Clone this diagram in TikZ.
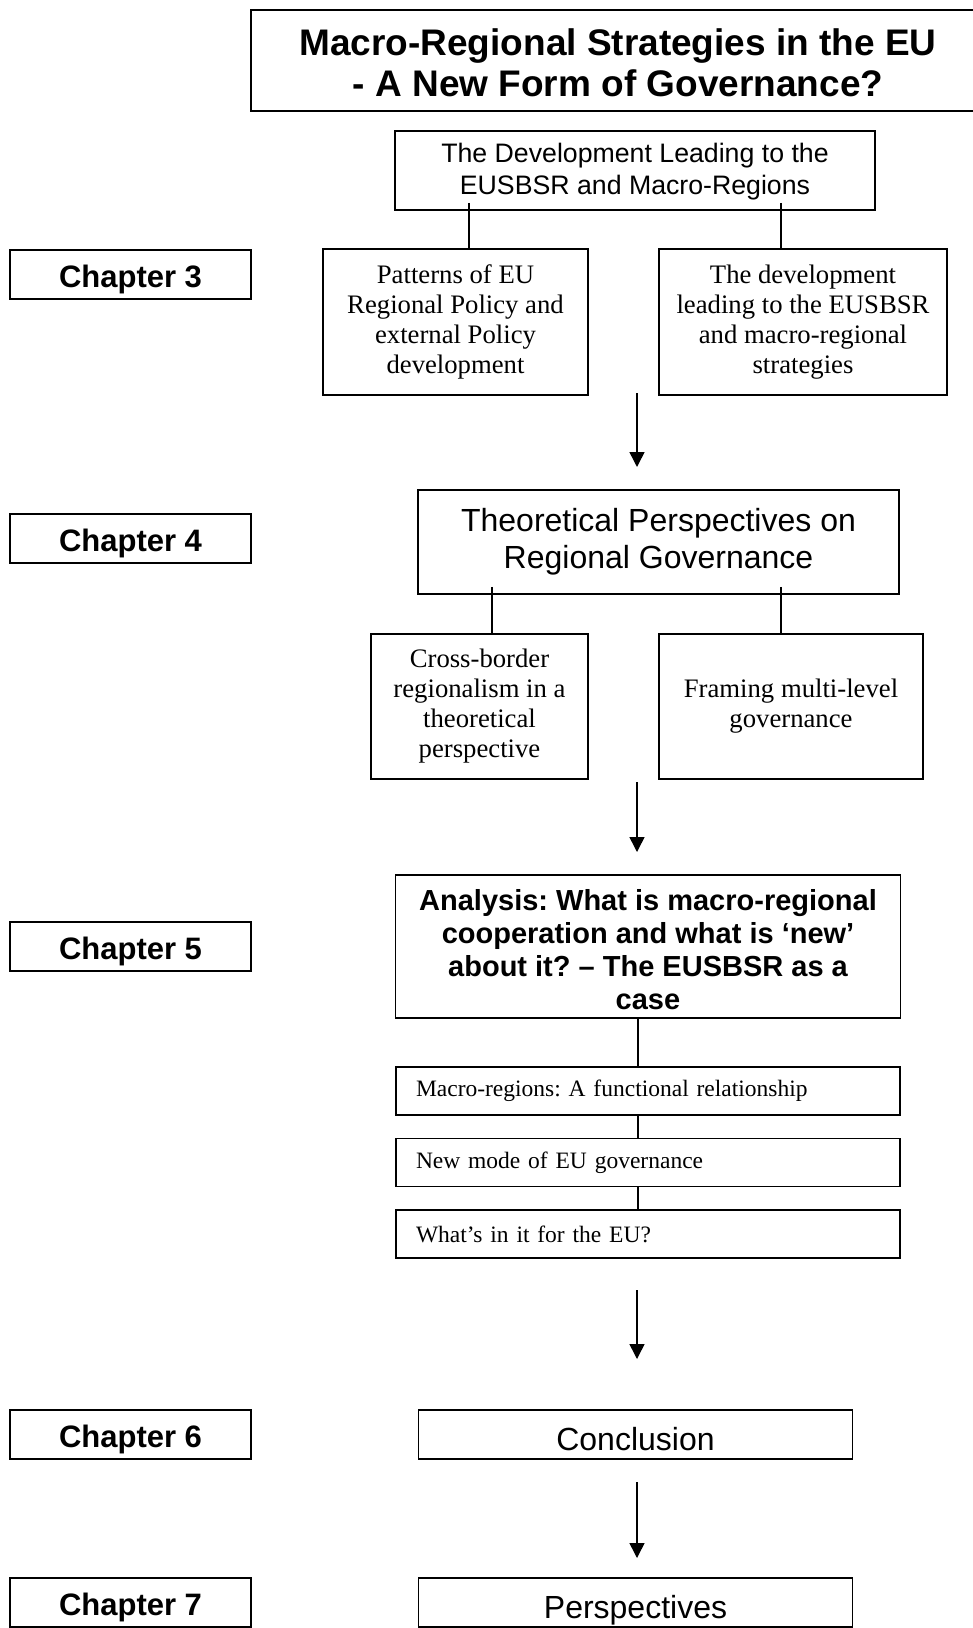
\documentclass[tikz,border=0pt]{standalone}
\usepackage{fontspec}
\setmainfont{Liberation Serif}
\setsansfont{Liberation Sans}
\usetikzlibrary{arrows.meta}
\begin{document}
\frenchspacing
\begin{tikzpicture}[x=1pt,y=-1pt,
  bx/.style={draw,line width=1.5pt,inner sep=0pt,align=center},
  chap/.style={bx,minimum width=241pt,minimum height=49pt,text height=26pt,text depth=0pt,font=\sffamily\bfseries\fontsize{31}{34}\selectfont},
  sansmid/.style={font=\sffamily\fontsize{26.7}{32}\selectfont},
  sansbig/.style={font=\sffamily\fontsize{32}{37.4}\selectfont},
  onebox/.style={bx,sansbig,minimum width=434pt,minimum height=49pt,text height=31pt,text depth=0pt},
  serifmid/.style={font=\rmfamily\fontsize{26.7}{30}\selectfont},
  listbox/.style={draw,line width=1.5pt,inner xsep=20pt,inner ysep=0pt,text width=464pt,align=left,minimum height=48pt,font=\rmfamily\fontsize{23.5}{27}\selectfont},
  arr/.style={line width=1.5pt,-{Triangle[length=15pt,width=15pt]}},
  ln/.style={line width=1.5pt}]
\path[use as bounding box] (0,0) rectangle (973,1628);
\clip (0,0) rectangle (973,1628);

% title
\node[bx,minimum width=734pt,minimum height=101pt,font=\sffamily\bfseries\fontsize{37}{41.5}\selectfont] (title) at (618,60.5) {\rule{0pt}{31pt}Macro-Regional Strategies in the EU\\- A New Form of Governance?};

% chapter 3
\node[bx,sansmid,minimum width=480pt,minimum height=79pt] (dev) at (635,170.5) {\rule{0pt}{22pt}The Development Leading to the\\EUSBSR and Macro-Regions};
\node[chap] (ch3) at (130.5,274.5) {Chapter 3};
\node[bx,serifmid,minimum width=265pt,minimum height=146pt] (pat) at (455.5,322) {Patterns of EU\\Regional Policy and\\external Policy\\development};
\node[bx,serifmid,minimum width=288pt,minimum height=146pt] (devl) at (803,322) {The development\\leading to the EUSBSR\\and macro-regional\\strategies};
\coordinate (xa) at (469,0);
\coordinate (xb) at (781,0);
\draw[ln,shorten <=-8pt] (dev.south -| xa) -- (pat.north -| xa);
\draw[ln,shorten <=-8pt] (dev.south -| xb) -- (devl.north -| xb);
\coordinate (a1s) at (637,393);
\coordinate (a1e) at (637,467);
\draw[arr] (a1s) -- (a1e);

% chapter 4
\node[chap] (ch4) at (130.5,538.5) {Chapter 4};
\node[bx,sansbig,minimum width=481pt,minimum height=104pt] (theo) at (658.5,542) {Theoretical Perspectives on\\Regional Governance};
\node[bx,serifmid,minimum width=217pt,minimum height=145pt] (cross) at (479.5,706.5) {Cross-border\\regionalism in a\\theoretical\\perspective};
\node[bx,serifmid,minimum width=264pt,minimum height=145pt] (fram) at (791,706.5) {Framing multi-level\\governance};
\coordinate (xc) at (492,0);
\coordinate (xd) at (781,0);
\draw[ln,shorten <=-8pt] (theo.south -| xc) -- (cross.north -| xc);
\draw[ln,shorten <=-8pt] (theo.south -| xd) -- (fram.north -| xd);
\coordinate (a2s) at (637,782);
\coordinate (a2e) at (637,852);
\draw[arr] (a2s) -- (a2e);

% chapter 5
\node[chap] (ch5) at (130.5,946.5) {Chapter 5};
\node[bx,minimum width=505pt,minimum height=143pt,font=\sffamily\bfseries\fontsize{29}{33.2}\selectfont] (ana) at (648,946.5) {\rule{0pt}{27pt}Analysis: What is macro-regional\\cooperation and what is ‘new’\\about it? – The EUSBSR as a\\case};
\node[listbox] (mac) at (648,1091) {Macro-regions: A functional relationship};
\node[listbox] (new) at (648,1162.5) {New mode of EU governance};
\node[listbox] (what) at (648,1234) {What’s in it for the EU?};
\coordinate (xe) at (638,0);
\draw[ln] (ana.south -| xe) -- (mac.north -| xe);
\draw[ln] (mac.south -| xe) -- (new.north -| xe);
\draw[ln] (new.south -| xe) -- (what.north -| xe);
\coordinate (a3s) at (637,1290);
\coordinate (a3e) at (637,1359);
\draw[arr] (a3s) -- (a3e);

% chapter 6
\node[chap] (ch6) at (130.5,1434.5) {Chapter 6};
\node[onebox] (conc) at (635.5,1434.5) {Conclusion};
\coordinate (a4s) at (637,1482);
\coordinate (a4e) at (637,1558);
\draw[arr] (a4s) -- (a4e);

% chapter 7
\node[chap] (ch7) at (130.5,1602.5) {Chapter 7};
\node[onebox] (pers) at (635.5,1602.5) {Perspectives};
\end{tikzpicture}
\end{document}
